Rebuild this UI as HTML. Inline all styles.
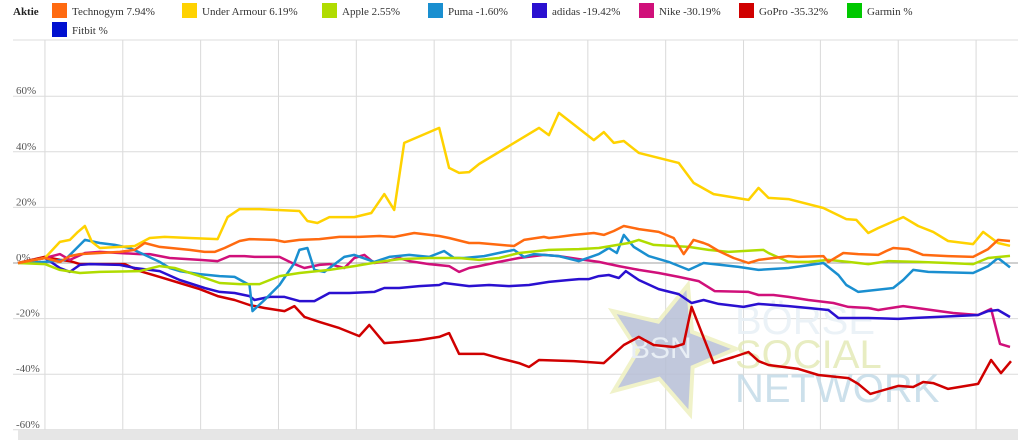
<!DOCTYPE html>
<html><head><meta charset="utf-8"><style>
html,body{margin:0;padding:0;background:#fff;}
svg{display:block;font-family:"Liberation Serif",serif;}
</style></head><body>
<svg id="chart" width="1024" height="440" viewBox="0 0 1024 440" xmlns="http://www.w3.org/2000/svg">
<g id="grid"></g>
<g id="watermark" opacity="0.85">
 <polygon id="star" points="" fill="#b7bfd6" stroke="#eef0c0" stroke-width="4"/>
 <text x="630" y="358" font-family="Liberation Sans,sans-serif" font-size="30" fill="#e4ecf4">BSN</text>
 <text x="735" y="334" font-family="Liberation Sans,sans-serif" font-size="40" fill="#e8f0f6">BÖRSE</text>
 <text x="735" y="368" font-family="Liberation Sans,sans-serif" font-size="40" fill="#e4eab8">SOCIAL</text>
 <text x="735" y="402" font-family="Liberation Sans,sans-serif" font-size="40" fill="#c4dbe8">NETWORK</text>
</g>
<g id="series"></g>
<rect x="18" y="430" width="1000" height="10" fill="#e6e6e6"/>
<g id="legend">
 <text x="13" y="15" font-size="11" font-weight="bold" fill="#222">Aktie</text>
</g>
</svg>
<script>
const yTicks=[60,40,20,0,-20,-40,-60];
const yTickLabels=["60%","40%","20%","0%","-20%","-40%","-60%"];
const names=["Technogym","Under Armour","Apple","Puma","adidas","Nike","GoPro","Garmin","Fitbit"];
const lastLabels=["7.94%","6.19%","2.55%","-1.60%","-19.42%","-30.19%","-35.32%","%","%"];
const colors=["#ff6a10","#ffd200","#b0dc00","#1a8fd0","#2a10d0","#d0107a","#d00000","#00c800","#0010d0"];
const techD=[0,2.7,4.2,5.2,6.2,8.2,10.2,11.7,12.7,14.2,17.2,18.7,19.7,20.7,22.2,23.2,25.7,26.7,28.2,30.2,32.2,34.2,36.2,37.7,39.7,42.2,43.2,45.2,46.2,49.7,50.7,52.7,53.2,54.2,55.7,57.7,58.7,59.7,60.7,62.2,64.2,65.7,66.7,67.7,68.7,69.2,70.2,71.7,73.2,74.2,75.7,77.2,78.2,80.7,81.2,82.7,84.2,86.2,87,87.7,89.2,90.7,93.2,95.7,97.2,98.2,99.4];
const techV=[0,1.8,0.4,2.5,3.2,3.6,4,4.7,7.2,5.8,4.7,4,4,5.4,7.9,8.6,8.3,7.6,8.3,8.6,9.4,9.4,9.7,9.4,10.8,9.7,9,7.2,7.2,6.1,8.3,9.4,9,9.4,10.1,10.8,10.1,11.5,13.3,12.2,11.2,9,3.2,8.3,7.2,6.5,4.3,1.8,0,1.1,1.8,2.5,2.2,2.5,0.4,3.6,3.2,2.9,4.3,5.4,5,2.9,2.5,2.2,5,8.3,7.9];
const uaD=[0,2.7,4.2,5.2,6,6.7,7.4,8.2,10.2,11.7,13.2,14.7,17.2,20,21,22.2,24.2,28.2,29,30,31.2,33.7,35.4,36.7,37.7,38.7,42.2,43.2,44.2,45.2,46.2,52.2,53.2,54.2,57.7,58.7,59.7,60.7,62.2,66.2,67.7,69.7,73.2,74.2,75.2,77.2,80.7,83,84,85.2,86.2,88.7,90.2,91.7,93.2,95.7,96.7,98.2,99.4];
const uaV=[0,1.8,7.6,8.3,11.2,13.3,7.6,5.4,5.8,6.1,9,9.4,9,8.6,16.5,19.4,19.4,18.7,15.1,14.4,16.5,16.5,18,24.8,19.1,43.2,48.6,34.2,32.4,32.7,35.6,48.6,46,54,44.2,47.1,43.2,43.9,39.6,36,28.8,24.8,22.7,27,23.4,23,19.8,15.8,15.5,10.8,12.6,16.5,13.3,11.2,7.9,6.8,11.2,7.2,6.19];
const appleD=[0,2.7,4.2,6.2,8.2,12.2,14.2,15.7,18.2,20.2,22.2,24.2,26.2,28.2,31.2,33.7,36.2,38.2,41.2,44.2,46.2,48.2,50.2,53.2,56.2,58.2,61.2,62.2,63.7,67.2,69.2,71.2,74.7,75.2,77.2,79.2,81.2,83.2,85.2,87.2,90.2,93.2,95.7,97.2,99.4];
const appleV=[0,-0.4,-2.5,-3.6,-3.2,-2.9,-1.1,-1.8,-4.7,-7.2,-7.6,-7.6,-4.7,-3.6,-2.5,-1.1,0.4,1.4,1.8,1.8,1.1,1.8,3.6,4.7,5,5.4,7.2,8.3,6.5,5.8,4.7,4,4.7,3.6,0.4,0.4,1.1,0.4,-0.4,0.7,0.4,0,-0.4,1.8,2.55];
const pumaD=[0,2.7,4.7,6.7,8.2,9.7,11.2,12.7,14.2,15.2,16.2,18.2,20.2,21.7,23.2,23.5,24.7,26.2,27.7,28.2,29,29.7,30.7,32.7,33.7,35.7,37.2,39.2,41.2,42.7,43.7,44.7,46.7,48.7,49.7,50.7,51.7,54.2,56.2,58.2,59.2,60,60.7,61.7,63.2,65.2,67.2,68.7,72.2,74.2,77.2,80.7,82.2,83,84.2,87.7,88.7,89.7,91.2,95.7,97.2,98.2,99.4];
const pumaV=[0,0.4,1.1,8.3,7.2,6.5,5.4,2.9,0.4,-1.8,-2.9,-4,-4.7,-5,-7.9,-17.3,-13.3,-7.9,0,4.7,5.4,-2.5,-3.2,2.2,2.9,0.4,2.2,2.9,2.2,4.3,1.8,1.8,2.5,4,4.7,2.2,3.2,2.5,0.7,3.2,5.4,3.6,10.1,5.8,2.5,0.4,-2.5,0,-1.4,-2.5,-1.8,0,-4.3,-7.9,-10.4,-9,-6.1,-2.5,-3.2,-3.6,-1.1,1.8,-1.6];
const adiD=[0,2.7,4.2,5.2,6.2,7.2,10.2,11.7,14.2,16.2,18.7,20.2,21.7,23.2,23.7,25.2,26.7,28.2,29.7,31.2,33.2,35.7,36.7,38.2,40.2,42.2,42.7,45.2,47.2,49.2,51.2,53.2,55.2,56.2,57.2,58.2,59.2,60.2,60.9,62.2,64.2,66.2,67.5,68.7,70.2,72.7,74.2,75.7,77.2,79.2,81.2,82.2,85.2,88.2,89.7,92.2,96.2,97.2,98.2,99.4];
const adiV=[0,1.8,-1.8,-3.2,-0.7,-0.4,-0.7,-1.8,-2.9,-6.1,-9,-10.4,-10.8,-11.9,-13.3,-12.2,-12.2,-13.7,-13.7,-10.8,-10.8,-10.4,-9,-9,-8.3,-7.9,-7.2,-8.3,-7.9,-8.3,-7.9,-6.8,-6.1,-5.8,-5.8,-4.7,-4.3,-5.4,-2.9,-6.1,-9.4,-11.2,-14.4,-13.3,-14.7,-15.8,-14.7,-15.1,-15.5,-16.2,-16.9,-19.8,-19.8,-20.1,-19.8,-19.4,-18.7,-17.3,-16.9,-19.42];
const nikeD=[0,2.7,4.2,5.2,6.7,8.2,12.2,13.2,15.2,18.2,20,21.2,22.7,23.7,26.2,27.7,28.7,30.2,31.2,32.7,33.7,34.7,35.7,36.7,38.2,39.2,41.2,43.2,44.2,45.2,46.2,48.2,50.2,52.7,54.2,56.2,58.2,60.2,62.2,64.2,66.2,68.2,69.8,73.2,74.2,75.7,77.2,79.2,81.7,83.2,85.2,86.2,88.7,90.7,93.7,96.2,97.5,98.4,99.4];
const nikeV=[0,1.8,3.2,1.1,3.6,4,3.2,3.2,1.8,1.1,0.7,2.5,2.5,2.2,2.2,-0.4,-1.8,-0.7,-0.4,-1.8,1.8,2.9,0,0.4,1.8,0.7,-0.4,-1.1,-3.2,-1.8,-1.1,0.4,1.8,2.9,2.5,1.4,0.4,-1.1,-2.5,-3.6,-5,-6.5,-10.1,-10.4,-11.5,-11.5,-12.2,-13.3,-14.4,-15.8,-16.2,-16.9,-15.5,-16.5,-18,-18.7,-16.5,-29.1,-30.19];
const goproD=[0,2.7,4.2,5.2,6.2,8.2,10.7,12.2,14.2,16.2,18.2,20,21.7,23.2,24.7,26.7,27.7,28.7,30.2,32.2,34.2,35.2,36.7,38.2,40.2,42.2,43.2,44.2,46.7,48.2,50.2,51.2,52.2,55.7,58.7,60.7,62.2,63.7,65.7,66.7,67.5,69.7,71.7,73.2,74.2,75.2,78.2,80.2,83.2,84.2,85.4,88.2,89.7,90.7,91.7,93.2,96.2,97.5,98.5,99.5];
const goproV=[0,2.2,1.1,0.7,-0.4,-0.4,-0.4,-2.9,-5,-7.2,-9.4,-11.9,-13.3,-15.1,-16.2,-17.3,-15.5,-19.4,-21.2,-23.4,-26.3,-22.3,-28.8,-28.4,-27.7,-26.6,-25.2,-32.7,-32.7,-34.2,-36,-37.4,-34.9,-35.3,-36,-29.5,-26.6,-29.5,-30.2,-29.1,-15.8,-36,-33.8,-32,-35.3,-36.7,-38.1,-40.3,-41.4,-43.5,-47.1,-44.2,-44.6,-42.8,-43.2,-45.3,-43.5,-34.9,-39.6,-35.32];
const seriesDays=[techD,uaD,appleD,pumaD,adiD,nikeD,goproD,[],[]];
const seriesVals=[techV,uaV,appleV,pumaV,adiV,nikeV,goproV,[],[]];
const seriesNames=["technogym","under-armour","apple","puma","adidas","nike","gopro","garmin","fitbit"];
const NS="http://www.w3.org/2000/svg";
function xS(d){return 18+d*9.98;}
function yS(v){return 263-v*2.78;}
(function(){
 let pts=[];
 const cx=668,cy=350,ro=68,ri=30,rot=-73*Math.PI/180;
 for(let i=0;i<10;i++){const r=i%2?ri:ro;const a=rot+i*Math.PI/5;pts.push((cx+r*Math.cos(a)).toFixed(1)+','+(cy+r*Math.sin(a)).toFixed(1));}
 document.getElementById('star').setAttribute('points',pts.join(' '));
})();
const grid=document.getElementById('grid');
const gridXs=[2.7,10.5,18.3,26.1,33.9,41.7,49.4,57.1,64.9,72.7,80.4,88.2,96];
for(let i=0;i<gridXs.length;i++){
 const l=document.createElementNS(NS,'line');
 
 
 const x=xS(gridXs[i]);
 l.setAttribute('x1',x);l.setAttribute('x2',x);l.setAttribute('y1',40);l.setAttribute('y2',432);
 l.setAttribute('stroke','#d9d9d9');l.setAttribute('stroke-width','1');
 grid.appendChild(l);
}
const topLine=document.createElementNS(NS,'line');


topLine.setAttribute('x1',13);topLine.setAttribute('x2',1018);topLine.setAttribute('y1',40);topLine.setAttribute('y2',40);topLine.setAttribute('stroke','#dcdcdc');
grid.appendChild(topLine);
yTicks.forEach((t,i)=>{
 const y=yS(t);
 const l=document.createElementNS(NS,'line');
 
 
 l.setAttribute('x1',13);l.setAttribute('x2',1018);l.setAttribute('y1',y);l.setAttribute('y2',y);
 l.setAttribute('stroke',t===0?'#a0a0a0':'#dcdcdc');
 grid.appendChild(l);
 const tx=document.createElementNS(NS,'text');
 
 
 tx.setAttribute('x',16);tx.setAttribute('y',y-2);tx.setAttribute('font-size','11');tx.setAttribute('fill','#555');
 tx.textContent=yTickLabels[i];
 grid.appendChild(tx);
});
const sg=document.getElementById('series');
for(let s=6;s>=0;s--){
 const d=seriesDays[s],v=seriesVals[s];const n=Math.min(d.length,v.length);
 if(!n)continue;
 let p='';
 for(let i=0;i<n;i++)p+=(i?'L':'M')+xS(d[i]).toFixed(1)+','+yS(v[i]).toFixed(1);
 const path=document.createElementNS(NS,'path');
 
 
 path.setAttribute('d',p);path.setAttribute('fill','none');path.setAttribute('stroke',colors[s]);
 path.setAttribute('stroke-width','2.5');path.setAttribute('stroke-linejoin','round');
 sg.appendChild(path);
}
const lg=document.getElementById('legend');
const lgX=[52,182,322,428,532,639,739,847,52];
const lgY=[3,3,3,3,3,3,3,3,22];
names.forEach((nm,i)=>{
 const g=document.createElementNS(NS,'g');
 
 
 const r=document.createElementNS(NS,'rect');
 
 
 r.setAttribute('x',lgX[i]);r.setAttribute('y',lgY[i]);r.setAttribute('width',15);r.setAttribute('height',15);r.setAttribute('fill',colors[i]);
 g.appendChild(r);
 const t=document.createElementNS(NS,'text');
 
 
 t.setAttribute('x',lgX[i]+20);t.setAttribute('y',lgY[i]+12);t.setAttribute('font-size','11');t.setAttribute('fill','#333');
 t.setAttribute('xml:space','preserve');
 t.textContent=nm+'  '+lastLabels[i];
 g.appendChild(t);
 lg.appendChild(g);
});
</script>
</body></html>
